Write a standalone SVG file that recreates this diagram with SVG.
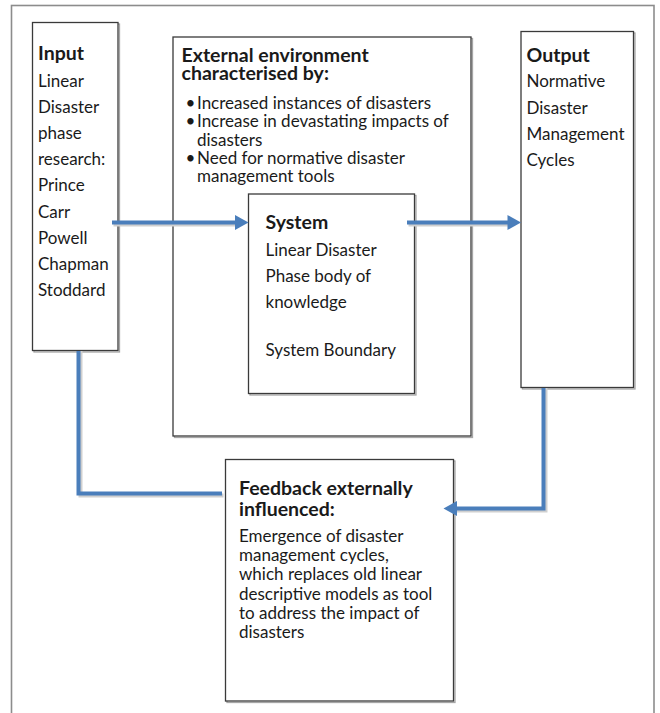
<svg xmlns="http://www.w3.org/2000/svg" width="660" height="713" viewBox="0 0 660 713">
<style>
text{font-family:Lato,"Liberation Sans",sans-serif;fill:#1a1a1a}
.h{font-weight:bold;font-size:19.5px}
.b{font-size:17px}
.box{fill:#fff;stroke:#3a3a3a;stroke-width:1.3}
.sh{fill:none;stroke:#a6a6a6;stroke-width:1.3}
.ln{fill:none;stroke:#4a7ebb;stroke-width:4}
.lsh{fill:none;stroke:#cfcfcf;stroke-width:4}
.hd{fill:#4a7ebb}
</style>
<rect width="660" height="713" fill="#fff"/>
<rect x="11.5" y="5.5" width="642.5" height="720" fill="none" stroke="#8c8c8c" stroke-width="1.6"/>

<g id="input">
<rect class="sh" x="34" y="24" width="85.5" height="328"/>
<rect class="box" x="32.5" y="22.5" width="85.5" height="328"/>
<text class="h" x="38" y="60">Input</text>
<text class="b" x="38" y="86.5">Linear</text>
<text class="b" x="38" y="112.7">Disaster</text>
<text class="b" x="38" y="138.9">phase</text>
<text class="b" x="38" y="165.1">research:</text>
<text class="b" x="38" y="191.3">Prince</text>
<text class="b" x="38" y="217.5">Carr</text>
<text class="b" x="38" y="243.7">Powell</text>
<text class="b" x="38" y="269.9">Chapman</text>
<text class="b" x="38" y="296.1">Stoddard</text>
</g>

<g id="environment">
<rect class="sh" x="174.5" y="38.5" width="298" height="399"/>
<rect class="box" x="173" y="37" width="298" height="399"/>
<text class="h" x="181.5" y="61.5">External environment</text>
<text class="h" x="181.5" y="80">characterised by:</text>
<text class="b" x="185.5" y="109">•</text><text class="b" x="197" y="109">Increased instances of disasters</text>
<text class="b" x="185.5" y="127.3">•</text><text class="b" x="197" y="127.3">Increase in devastating impacts of</text>
<text class="b" x="197" y="145.6">disasters</text>
<text class="b" x="185.5" y="163.9">•</text><text class="b" x="197" y="163.9">Need for normative disaster</text>
<text class="b" x="197" y="182.2">management tools</text>
</g>

<g id="system">
<rect class="sh" x="250" y="195.5" width="166" height="199.5"/>
<rect class="box" x="248.5" y="194" width="166" height="199.5"/>
<text class="h" x="265.5" y="229">System</text>
<text class="b" x="265.5" y="255.5">Linear Disaster</text>
<text class="b" x="265.5" y="282">Phase body of</text>
<text class="b" x="265.5" y="308.3">knowledge</text>
<text class="b" x="265.5" y="355.7">System Boundary</text>
</g>

<g id="output">
<rect class="sh" x="522.5" y="33" width="112.5" height="356"/>
<rect class="box" x="521" y="31.5" width="112.5" height="356"/>
<text class="h" x="526.5" y="61.5">Output</text>
<text class="b" x="526.5" y="87.3">Normative</text>
<text class="b" x="526.5" y="113.5">Disaster</text>
<text class="b" x="526.5" y="139.8">Management</text>
<text class="b" x="526.5" y="166">Cycles</text>
</g>

<g id="feedback">
<rect class="sh" x="227" y="461" width="228" height="241.5"/>
<rect class="box" x="225.5" y="459.5" width="228" height="241.5"/>
<text class="h" x="239" y="495">Feedback externally</text>
<text class="h" x="239" y="515.5">influenced:</text>
<text class="b" x="239" y="541.7">Emergence of disaster</text>
<text class="b" x="239" y="561">management cycles,</text>
<text class="b" x="239" y="580.3">which replaces old linear</text>
<text class="b" x="239" y="599.6">descriptive models as tool</text>
<text class="b" x="239" y="618.9">to address the impact of</text>
<text class="b" x="239" y="638.2">disasters</text>
</g>

<g id="connectors">
<path class="lsh" d="M113.5 224.5H237.5"/>
<path class="ln" d="M112 222.5H236"/>
<polygon class="hd" points="235,215 248.5,222.5 235,230"/>
<path class="lsh" d="M408.5 224.5H509.5"/>
<path class="ln" d="M407 222.5H508"/>
<polygon class="hd" points="507.5,215 521,222.5 507.5,230"/>
<path class="lsh" d="M80.5 351V495.5H223.5"/>
<path class="ln" d="M78.5 351V493.5H222"/>
<path class="lsh" d="M545.5 388V510.5H457"/>
<path class="ln" d="M543.5 388V508.5H456"/>
<polygon class="hd" points="457,501 443.5,508.5 457,516"/>
</g>
</svg>
